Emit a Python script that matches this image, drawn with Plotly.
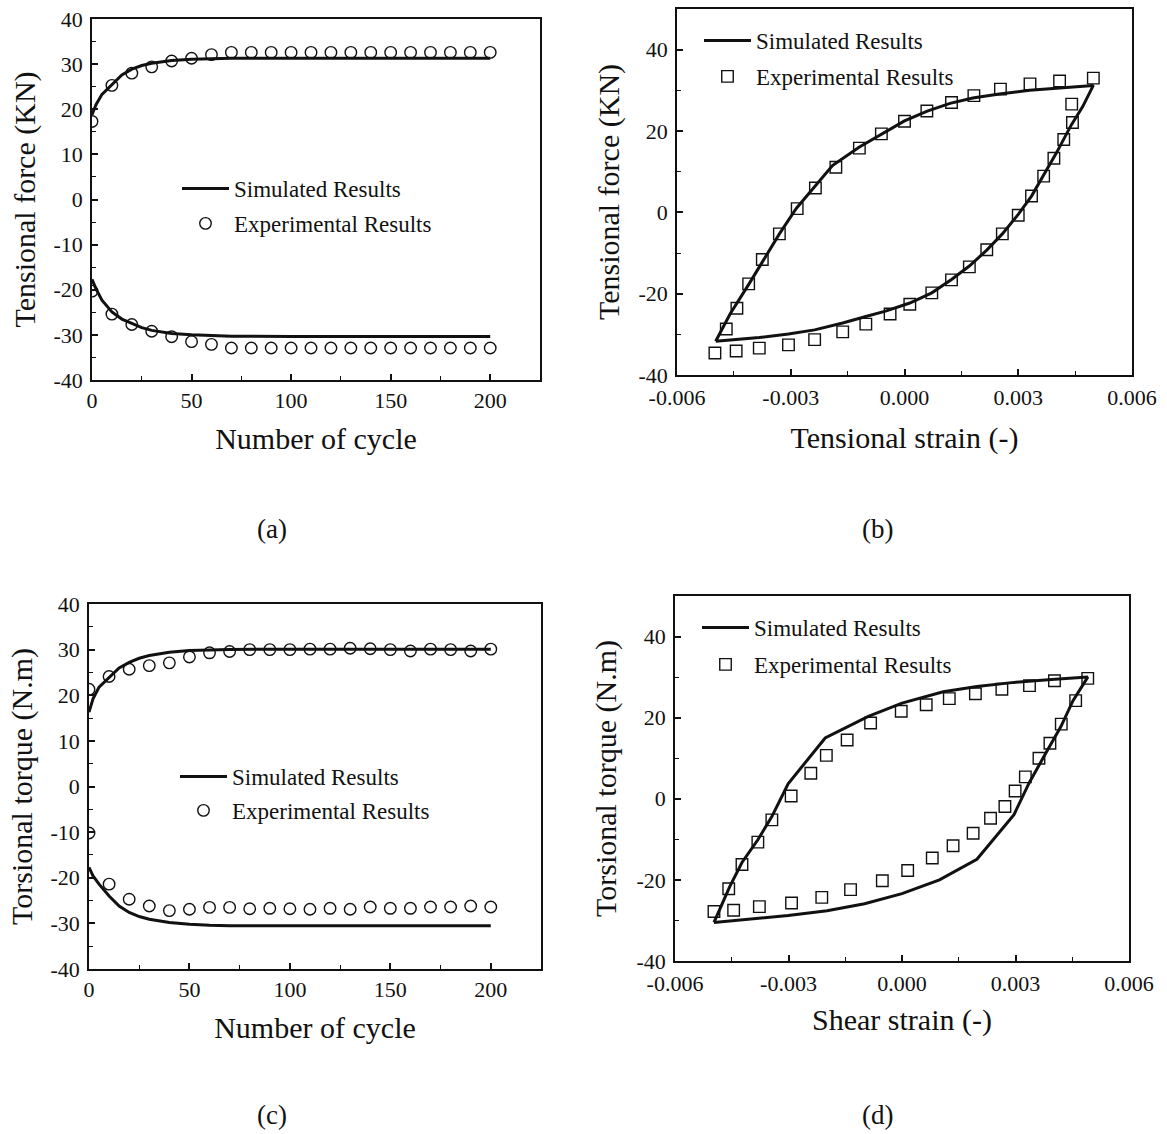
import plotly.graph_objects as go

# ---------------- data ----------------
# (a) tensional force vs. number of cycles
cyc_sim = [0, 2, 5, 10, 15, 20, 25, 30, 40, 50, 60, 70, 100, 150, 200]
force_sim_max = [18.8, 21.0, 23.3, 25.5, 27.6, 28.9, 29.7, 30.2, 30.8, 31.1, 31.25, 31.3, 31.3, 31.3, 31.3]
force_sim_min = [-17.7, -19.8, -22.3, -24.9, -26.5, -27.5, -28.4, -29.0, -29.7, -30.0, -30.2, -30.3, -30.35, -30.35, -30.35]
cyc_exp = [0, 10, 20, 30, 40, 50, 60, 70, 80, 90, 100, 110, 120, 130, 140, 150, 160, 170, 180, 190, 200]
force_exp_max = [17.3, 25.3, 28.0, 29.4, 30.7, 31.3, 32.1, 32.6, 32.6, 32.6, 32.6, 32.6, 32.6, 32.6, 32.6, 32.6, 32.6, 32.6, 32.6, 32.6, 32.6]
force_exp_min = [-20.3, -25.4, -27.7, -29.2, -30.4, -31.5, -32.1, -32.9, -32.9, -32.9, -32.9, -32.9, -32.9, -32.9, -32.9, -32.9, -32.9, -32.9, -32.9, -32.9, -32.9]

# (b) tensional force vs. tensional strain (hysteresis loop)
strain_b_sim_load = [-0.00498, -0.0046, -0.0041, -0.0037, -0.0033, -0.00285, -0.00235, -0.0019, -0.0012, -0.0006,
                     0.0, 0.0006, 0.0012, 0.0018, 0.0025, 0.0033, 0.0041, 0.00498]
force_b_sim_load = [-31.7, -25.0, -17.6, -11.5, -5.3, 1.0, 6.5, 11.5, 16.0, 19.3,
                    22.5, 24.9, 26.8, 28.1, 29.1, 30.0, 30.6, 31.2]
strain_b_sim_unload = [0.00498, 0.0047, 0.0044, 0.0040, 0.0037, 0.00335, 0.0030, 0.00258, 0.00217, 0.00171,
                       0.00124, 0.00072, 0.00014, -0.0005, -0.00102, -0.00163, -0.00237, -0.00306, -0.00383, -0.00444, -0.00498]
force_b_sim_unload = [31.2, 26.0, 21.5, 14.5, 9.5, 4.0, -0.5, -5.3, -9.3, -13.2,
                      -16.5, -19.8, -22.3, -24.3, -25.6, -27.2, -28.9, -29.9, -30.8, -31.3, -31.7]
strain_b_exp = [-0.00470, -0.00442, -0.00411, -0.00375, -0.00330, -0.00283, -0.00235, -0.00181, -0.00119, -0.00061,
                0.0, 0.00059, 0.00124, 0.00183, 0.00253, 0.00331, 0.00409, 0.00498,
                0.00441, 0.00443, 0.00420, 0.00394, 0.00367, 0.00335, 0.00300, 0.00258, 0.00217, 0.00171,
                0.00124, 0.00072, 0.00014, -0.00038, -0.00102, -0.00163, -0.00237, -0.00306, -0.00383, -0.00444, -0.00500]
force_b_exp = [-28.7, -23.6, -17.6, -11.6, -5.3, 0.9, 6.0, 11.1, 15.8, 19.3,
               22.4, 24.9, 27.0, 28.7, 30.3, 31.6, 32.3, 33.0,
               26.6, 22.1, 17.9, 13.3, 8.9, 4.0, -0.7, -5.3, -9.2, -13.4,
               -16.6, -19.8, -22.6, -25.0, -27.5, -29.4, -31.3, -32.6, -33.4, -34.1, -34.6]

# (c) torsional torque vs. number of cycles
torque_sim_max = [16.3, 19.2, 21.8, 23.8, 26.0, 27.2, 28.1, 28.7, 29.4, 29.8, 29.95, 30.05, 30.1, 30.1, 30.1]
torque_sim_min = [-17.7, -19.6, -21.4, -24.0, -26.2, -27.6, -28.5, -29.1, -29.8, -30.2, -30.4, -30.5, -30.5, -30.5, -30.5]
torque_exp_max = [21.3, 24.1, 25.7, 26.5, 27.1, 28.4, 29.3, 29.6, 30.0, 30.0, 30.0, 30.1, 30.1, 30.3, 30.2, 30.0, 29.7, 30.1, 30.0, 29.7, 30.1]
torque_exp_min = [-10.2, -21.4, -24.7, -26.2, -27.2, -26.9, -26.5, -26.5, -26.8, -26.7, -26.8, -26.9, -26.7, -26.9, -26.4, -26.7, -26.7, -26.4, -26.4, -26.2, -26.4]

# (d) torsional torque vs. shear strain (hysteresis loop)
strain_d_sim_load = [-0.00497, -0.00455, -0.00423, -0.00381, -0.00344, -0.00301, -0.00203, -0.00089,
                     0.0, 0.00109, 0.00198, 0.00296, 0.00395, 0.00491]
torque_d_sim_load = [-30.5, -21.6, -15.7, -10.1, -4.4, 3.7, 15.0, 20.3,
                     23.6, 26.4, 27.7, 28.7, 29.4, 30.0]
strain_d_sim_unload = [0.00491, 0.00452, 0.00420, 0.00375, 0.00336, 0.00296, 0.00198, 0.00099,
                       0.0, -0.00099, -0.00198, -0.00301, -0.00405, -0.00497]
torque_d_sim_unload = [30.0, 24.2, 17.8, 10.4, 3.9, -3.9, -14.9, -20.0,
                       -23.4, -25.9, -27.6, -28.8, -29.8, -30.5]
strain_d_exp = [-0.00497, -0.00458, -0.00423, -0.00381, -0.00344, -0.00293, -0.00241, -0.00200, -0.00145, -0.00083,
                -0.00002, 0.00064, 0.00125, 0.00194, 0.00264, 0.00337, 0.00403, 0.00491,
                0.00459, 0.00421, 0.00391, 0.00362, 0.00326, 0.00299, 0.00272, 0.00234, 0.00188, 0.00135,
                0.00080, 0.00015, -0.00052, -0.00136, -0.00212, -0.00292, -0.00377, -0.00445]
torque_d_exp = [-27.8, -22.2, -16.2, -10.7, -5.2, 0.7, 6.3, 10.7, 14.5, 18.7,
                21.6, 23.2, 24.7, 25.9, 27.0, 27.9, 29.1, 29.7,
                24.2, 18.4, 13.7, 10.0, 5.4, 1.9, -1.9, -4.8, -8.5, -11.6,
                -14.6, -17.7, -20.2, -22.4, -24.3, -25.7, -26.6, -27.5]

# tick labels
cyc_ticks = [0, 50, 100, 150, 200]
cyc_ticktext = ["0", "50", "100", "150", "200"]
y_cyc_ticks = [-40, -30, -20, -10, 0, 10, 20, 30, 40]
y_cyc_ticktext = ["-40", "-30", "-20", "-10", "0", "10", "20", "30", "40"]
strain_ticks = [-0.006, -0.003, 0.0, 0.003, 0.006]
strain_ticktext = ["-0.006", "-0.003", "0.000", "0.003", "0.006"]
y_loop_ticks = [-40, -20, 0, 20, 40]
y_loop_ticktext = ["-40", "-20", "0", "20", "40"]

SIM_NAME = "Simulated Results"
EXP_NAME = "Experimental Results"

# ---------------- figure ----------------
W, H = 1167, 1134
FONT = "Liberation Serif"
INK = "#111111"


def px_x(p):
    return p / W


def px_y(p):
    return 1 - p / H


fig = go.Figure()

# panel domains (pixels: left, right, top, bottom)
panels = {
    "a": (92, 540, 19, 380),
    "b": (677, 1132, 9, 375),
    "c": (89, 541, 604, 969),
    "d": (675, 1129, 596, 961),
}
axis_ids = {"a": ("x", "y"), "b": ("x2", "y2"), "c": ("x3", "y3"), "d": ("x4", "y4")}


def joined(xs1, ys1, xs2, ys2):
    return list(xs1) + [None] + list(xs2), list(ys1) + [None] + list(ys2)


line_style = dict(color=INK, width=3)
circle_marker = dict(symbol="circle-open", size=11.5, color=INK, line=dict(width=1.4, color=INK))
square_marker = dict(symbol="square-open", size=11.5, color=INK, line=dict(width=1.4, color=INK))

# (a)
xa, ya = joined(cyc_sim, force_sim_max, cyc_sim, force_sim_min)
xe, ye = joined(cyc_exp, force_exp_max, cyc_exp, force_exp_min)
fig.add_trace(go.Scatter(x=xa, y=ya, mode="lines", line=line_style, name=SIM_NAME,
                         xaxis="x", yaxis="y", legend="legend", legendgroup="a1"))
fig.add_trace(go.Scatter(x=xe, y=ye, mode="markers", marker=circle_marker, name=EXP_NAME,
                         xaxis="x", yaxis="y", legend="legend", legendgroup="a2"))

# (b)
xb, yb = strain_b_sim_load + strain_b_sim_unload[1:], force_b_sim_load + force_b_sim_unload[1:]
fig.add_trace(go.Scatter(x=xb, y=yb, mode="lines", line=line_style, name=SIM_NAME,
                         xaxis="x2", yaxis="y2", legend="legend2", legendgroup="b1"))
fig.add_trace(go.Scatter(x=strain_b_exp, y=force_b_exp, mode="markers", marker=square_marker, name=EXP_NAME,
                         xaxis="x2", yaxis="y2", legend="legend2", legendgroup="b2"))

# (c)
xc, yc = joined(cyc_sim, torque_sim_max, cyc_sim, torque_sim_min)
xce, yce = joined(cyc_exp, torque_exp_max, cyc_exp, torque_exp_min)
fig.add_trace(go.Scatter(x=xc, y=yc, mode="lines", line=line_style, name=SIM_NAME,
                         xaxis="x3", yaxis="y3", legend="legend3", legendgroup="c1"))
fig.add_trace(go.Scatter(x=xce, y=yce, mode="markers", marker=circle_marker, name=EXP_NAME,
                         xaxis="x3", yaxis="y3", legend="legend3", legendgroup="c2"))

# (d)
xd, yd = strain_d_sim_load + strain_d_sim_unload[1:], torque_d_sim_load + torque_d_sim_unload[1:]
fig.add_trace(go.Scatter(x=xd, y=yd, mode="lines", line=line_style, name=SIM_NAME,
                         xaxis="x4", yaxis="y4", legend="legend4", legendgroup="d1"))
fig.add_trace(go.Scatter(x=strain_d_exp, y=torque_d_exp, mode="markers", marker=square_marker, name=EXP_NAME,
                         xaxis="x4", yaxis="y4", legend="legend4", legendgroup="d2"))

tick_font = dict(family=FONT, size=22, color=INK)
title_font = dict(family=FONT, size=30, color=INK)


def axis(domain, rng, tickvals, ticktext, minor_dtick, title, anchor, standoff, label_gap):
    return dict(
        domain=domain, range=rng, anchor=anchor,
        tickmode="array", tickvals=tickvals, ticktext=ticktext,
        ticks="inside", ticklen=6, tickwidth=1.5, tickcolor=INK,
        ticklabelstandoff=label_gap,
        minor=dict(ticks="inside", ticklen=4, tickwidth=1.3, tickcolor=INK, dtick=minor_dtick,
                   tick0=tickvals[0], showgrid=False),
        showline=True, linewidth=1.6, linecolor=INK, mirror=True,
        showgrid=False, zeroline=False, automargin=False,
        tickfont=tick_font, title=dict(text=title, font=title_font, standoff=standoff),
    )


layout_axes = {}
specs = {
    "a": ([0, 225], cyc_ticks, cyc_ticktext, 25, "Number of cycle", 16, 0,
          [-40, 40], y_cyc_ticks, y_cyc_ticktext, 5, "Tensional force (KN)", 9),
    "b": ([-0.006, 0.006], strain_ticks, strain_ticktext, 0.0015, "Tensional strain (-)", 18, 2,
          [-40, 50], y_loop_ticks, y_loop_ticktext, 10, "Tensional force (KN)", 10),
    "c": ([0, 225], cyc_ticks, cyc_ticktext, 25, "Number of cycle", 16, 0,
          [-40, 40], y_cyc_ticks, y_cyc_ticktext, 5, "Torsional torque (N.m)", 9),
    "d": ([-0.006, 0.006], strain_ticks, strain_ticktext, 0.0015, "Shear strain (-)", 14, 2,
          [-40, 50], y_loop_ticks, y_loop_ticktext, 10, "Torsional torque (N.m)", 11),
}
for key, (xr, xtv, xtt, xmin, xt, xso, xgap, yr, ytv, ytt, ymin, yt, yso) in specs.items():
    l, r, t, b = panels[key]
    xid, yid = axis_ids[key]
    xname = "xaxis" + xid[1:]
    yname = "yaxis" + yid[1:]
    layout_axes[xname] = axis([px_x(l), px_x(r)], xr, xtv, xtt, xmin, xt, yid, xso, xgap)
    layout_axes[yname] = axis([px_y(b), px_y(t)], yr, ytv, ytt, ymin, yt, xid, yso, 3)

legend_font = dict(family=FONT, size=23, color=INK)


def legend_box(left_px, top_px, gap):
    return dict(x=px_x(left_px), y=px_y(top_px), xanchor="left", yanchor="top",
                bgcolor="rgba(0,0,0,0)", borderwidth=0, font=legend_font,
                itemwidth=47, tracegroupgap=gap, traceorder="grouped")


fig.update_layout(
    width=W, height=H, margin=dict(l=0, r=0, t=0, b=0),
    paper_bgcolor="white", plot_bgcolor="white",
    font=dict(family=FONT, color=INK),
    showlegend=True,
    legend=legend_box(177, 167, 2),
    legend2=legend_box(699, 19, 3),
    legend3=legend_box(175, 755, 1),
    legend4=legend_box(697, 606, 4),
    **layout_axes,
)

# panel captions
for text, cx, cy in [("(a)", 272, 529), ("(b)", 877, 529), ("(c)", 272, 1115), ("(d)", 877, 1115)]:
    fig.add_annotation(text=text, x=px_x(cx), y=px_y(cy), xref="paper", yref="paper",
                       showarrow=False, xanchor="center", yanchor="middle",
                       font=dict(family=FONT, size=27, color=INK))

fig.write_html("out.html")
